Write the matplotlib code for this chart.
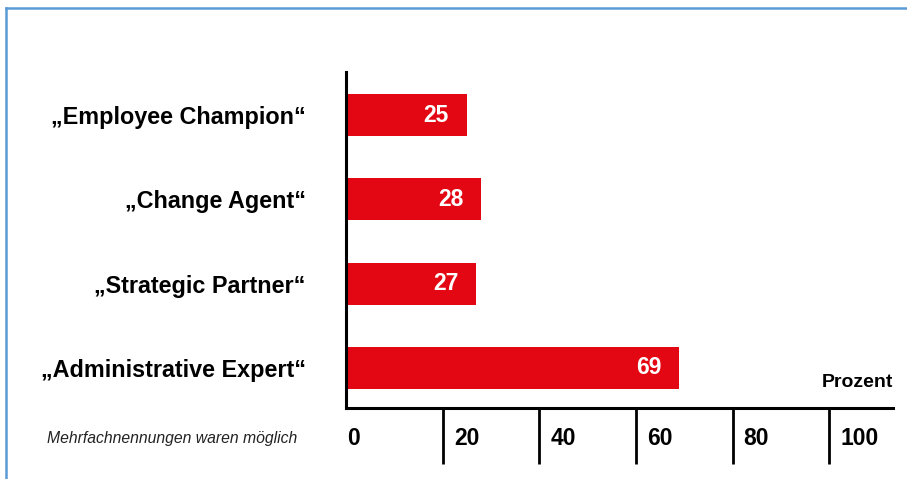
import matplotlib
matplotlib.use("Agg")
import matplotlib.pyplot as plt
from matplotlib.lines import Line2D

categories = ["„Employee Champion“", "„Change Agent“", "„Strategic Partner“", "„Administrative Expert“"]
values = [25, 28, 27, 69]
tick_values = [0, 20, 40, 60, 80, 100]
tick_labels = ["0", "20", "40", "60", "80", "100"]
unit_label = "Prozent"
note = "Mehrfachnennungen waren möglich"

RED = "#E30613"
BLUE = "#5B9BD5"
W, H = 907, 479

plt.rcParams['font.family'] = ['Liberation Sans', 'DejaVu Sans']
fig = plt.figure(figsize=(W / 100, H / 100), dpi=100)

# axes in pixel layout
ax_left, ax_right, ax_top, ax_bottom = 346, 893, 72, 408
ax = fig.add_axes([ax_left / W, 1 - ax_bottom / H, (ax_right - ax_left) / W, (ax_bottom - ax_top) / H])

n = len(categories)
ypos = [n - 1 - i for i in range(n)]
ax.barh(ypos, values, height=0.5, color=RED, edgecolor='none')
ax.set_xlim(0, 113.2)
ax.set_ylim(-0.475, 3.51)

for s in ['top', 'right']:
    ax.spines[s].set_visible(False)
for s in ['left', 'bottom']:
    ax.spines[s].set_linewidth(2.2)
    ax.spines[s].set_color('black')

ax.set_yticks(ypos)
ax.set_yticklabels(categories, fontsize=16.8, fontweight='bold')
ax.tick_params(axis='y', length=0, pad=29)

ax.set_xticks([t for t in tick_values if t > 0])
ax.set_xticklabels([])
ax.tick_params(axis='x', direction='out', length=40, width=2.0, color='black')

# tick labels placed right of the tick lines
for v, lab in zip(tick_values, tick_labels):
    off = 1.0 if v == 0 else 8.0
    ax.annotate(lab, xy=(v, 0), xycoords=('data', 'axes fraction'),
                xytext=(off, -22), textcoords='offset points',
                ha='left', va='center', fontsize=16.5, fontweight='bold')

# value labels inside bars
for y, v in zip(ypos, values):
    ax.annotate(str(v), xy=(v, y), xytext=(-13, 0), textcoords='offset points',
                ha='right', va='center', fontsize=16.5, fontweight='bold', color='white')

ax.text(1.0, 0.075, unit_label, transform=ax.transAxes, ha='right', va='center',
        fontsize=14, fontweight='bold')

fig.text(47 / W, 1 - 438 / H, note, ha='left', va='center', fontsize=11.3, style='italic',
         color='#222222')

# blue frame
fig.add_artist(Line2D([6 / W, 6 / W], [0, 1 - 8 / H], color=BLUE, lw=1.8, transform=fig.transFigure))
fig.add_artist(Line2D([6 / W, 1], [1 - 8 / H, 1 - 8 / H], color=BLUE, lw=1.8, transform=fig.transFigure))

fig.savefig("out.png", dpi=100)
